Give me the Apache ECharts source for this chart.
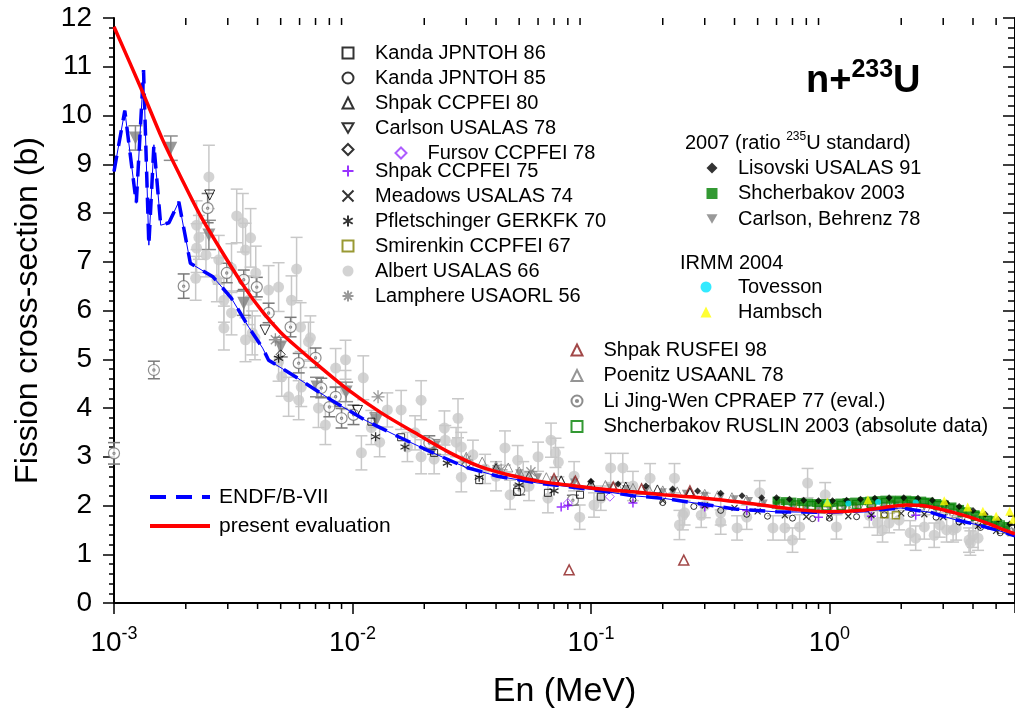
<!DOCTYPE html>
<html>
<head>
<meta charset="utf-8">
<script src="https://cdn.jsdelivr.net/npm/echarts@6/dist/echarts.min.js"></script>
<style>
html, body { margin: 0; padding: 0; background: #fff; }
#main { width: 1015px; height: 715px; }
</style>
</head>
<body>
<div id="main"></div>
<script>
// ---- evaluated curves (E in MeV, sigma in b) ----
const evalE = [0.001, 0.0013, 0.0016, 0.0019, 0.0023, 0.0028, 0.0035, 0.0042, 0.005, 0.006, 0.007, 0.0096, 0.0132, 0.0183, 0.0252, 0.0345, 0.045, 0.06, 0.08, 0.1, 0.15, 0.2, 0.3, 0.42, 0.6, 0.8, 1.0, 1.3, 1.7, 2.1, 2.6, 3.3, 4.0, 4.8, 5.4, 6.0];
const evalS = [11.82, 10.55, 9.5, 8.75, 7.95, 7.25, 6.5, 5.97, 5.55, 5.2, 4.92, 4.37, 3.9, 3.49, 3.1, 2.79, 2.63, 2.5, 2.42, 2.36, 2.28, 2.22, 2.15, 2.07, 1.97, 1.9, 1.87, 1.89, 1.96, 2.01, 1.98, 1.86, 1.74, 1.6, 1.5, 1.42];
const endfE = [0.001, 0.00111, 0.00124, 0.00133, 0.0014, 0.00147, 0.00157, 0.0017, 0.00187, 0.00209, 0.0026, 0.0031, 0.00367, 0.0042, 0.00445, 0.00577, 0.00817, 0.0113, 0.0156, 0.0213, 0.0296, 0.0406, 0.06, 0.1, 0.15, 0.2, 0.4, 0.6, 1.0, 1.5, 2.0, 2.7, 3.3, 4.2, 5.0, 6.0];
const endfS = [8.85, 10.1, 8.2, 10.93, 7.34, 9.4, 7.75, 7.8, 8.23, 6.97, 6.69, 6.26, 5.66, 5.23, 4.98, 4.64, 4.16, 3.75, 3.41, 3.1, 2.79, 2.6, 2.46, 2.33, 2.2, 2.15, 1.93, 1.87, 1.86, 1.9, 1.95, 1.85, 1.72, 1.6, 1.5, 1.38];

// ---- Albert USALAS 66 (E, sigma, error) ----
const albertE = [0.0025, 0.00327, 0.00347, 0.00222, 0.00227, 0.00374, 0.00222, 0.00243, 0.00275, 0.00356, 0.00583, 0.00311, 0.00393, 0.0027, 0.00445, 0.0049, 0.00289, 0.00311, 0.00367, 0.00555, 0.00289, 0.00606, 0.00666, 0.00356, 0.0049, 0.00505, 0.0054, 0.0072, 0.0038, 0.00654, 0.00935, 0.0111, 0.0085, 0.00595, 0.0077, 0.0109, 0.016, 0.0277, 0.0183, 0.0194, 0.014, 0.0245, 0.0286, 0.0194, 0.00935, 0.0286, 0.0243, 0.0272, 0.0436, 0.032, 0.068, 0.06, 0.071, 0.073, 0.121, 0.136, 0.177, 0.0458, 0.066, 0.0897, 0.103, 0.235, 0.243, 0.224, 0.0493, 0.81, 0.96, 0.41, 0.70, 0.58, 0.65, 2.3, 2.75, 3.3, 4.0, 4.2, 1.78, 1.96, 3.9, 0.247, 0.29, 0.35, 0.45, 1.07, 1.47, 2.5, 3.1, 0.51, 0.35, 0.75, 1.59, 1.67, 2.18, 2.9, 3.4, 3.85, 0.012, 0.013, 0.017, 0.022, 0.036, 0.04, 0.052, 0.085, 0.15, 0.3, 0.11, 0.055, 0.0022, 0.0039, 0.0061];
const albertS = [8.74, 7.94, 7.80, 7.75, 7.50, 7.49, 7.28, 7.14, 7.04, 7.24, 6.85, 6.87, 6.77, 6.63, 6.42, 6.48, 6.21, 5.95, 6.21, 6.21, 5.64, 5.66, 5.44, 5.40, 4.95, 4.64, 4.23, 4.0, 5.54, 5.36, 4.99, 4.62, 4.82, 4.16, 3.65, 3.08, 3.96, 3.79, 3.49, 3.0, 3.96, 3.34, 3.2, 4.16, 4.37, 2.58, 3.59, 3.3, 3.18, 3.04, 3.34, 3.0, 3.08, 2.89, 2.77, 2.77, 2.56, 2.22, 2.15, 1.76, 2.01, 1.6, 1.8, 2.56, 2.93, 2.46, 2.22, 1.54, 1.29, 1.54, 1.54, 1.33, 1.39, 1.5, 1.39, 1.33, 1.64, 1.7, 1.23, 1.85, 1.8, 1.85, 1.76, 1.56, 1.8, 1.56, 1.5, 2.26, 1.66, 1.56, 1.64, 1.5, 1.44, 1.6, 1.54, 1.29, 3.6, 3.3, 3.2, 2.95, 2.75, 2.6, 2.6, 2.6, 2.4, 2.0, 2.15, 2.4, 6.66, 5.44, 4.43];
const albertErr = [0.65, 0.55, 0.6, 0.5, 0.45, 0.6, 0.5, 0.45, 0.5, 0.55, 0.65, 0.5, 0.55, 0.45, 0.5, 0.5, 0.45, 0.45, 0.5, 0.5, 0.45, 0.5, 0.45, 0.45, 0.4, 0.4, 0.4, 0.4, 0.45, 0.4, 0.4, 0.45, 0.4, 0.4, 0.4, 0.35, 0.4, 0.4, 0.35, 0.35, 0.35, 0.3, 0.3, 0.4, 0.4, 0.3, 0.35, 0.3, 0.35, 0.3, 0.35, 0.3, 0.3, 0.3, 0.3, 0.3, 0.3, 0.3, 0.3, 0.25, 0.25, 0.3, 0.3, 0.3, 0.3, 0.3, 0.25, 0.25, 0.25, 0.25, 0.25, 0.25, 0.25, 0.25, 0.25, 0.25, 0.2, 0.2, 0.25, 0.25, 0.25, 0.25, 0.25, 0.25, 0.25, 0.25, 0.25, 0.25, 0.25, 0.25, 0.25, 0.25, 0.25, 0.25, 0.25, 0.25, 0.35, 0.3, 0.3, 0.3, 0.3, 0.3, 0.3, 0.3, 0.3, 0.25, 0.25, 0.3, 0.45, 0.45, 0.4];

// ---- Li Jing-Wen CPRAEP 77 (eval.) ----
const liE = [0.001, 0.00147, 0.00196, 0.00247, 0.00297, 0.0035, 0.00397, 0.00445, 0.0055, 0.007, 0.00595, 0.0074, 0.0085, 0.008, 0.009, 0.0101, 0.021, 0.05, 0.084];
const liS = [3.07, 4.78, 6.5, 8.1, 6.77, 6.63, 6.48, 5.95, 5.66, 5.03, 4.92, 4.41, 4.23, 4.02, 3.79, 3.86, 3.28, 2.32, 2.11];
const liErr = [0.22, 0.18, 0.25, 0.3, 0.2, 0.2, 0.2, 0.2, 0.2, 0.2, 0.2, 0.2, 0.2, 0.2, 0.2, 0.2, 0.15, 0.1, 0.1];

// ---- Carlson, Behrenz 78 (ratio to 235U) ----
const cbLowE = [0.00123, 0.00173, 0.0025, 0.0035, 0.005, 0.0071, 0.0094, 0.0126, 0.022];
const cbLowS = [9.54, 9.33, 7.55, 6.15, 5.25, 4.43, 4.33, 3.75, 3.2];
const cbLowErr = [0.25, 0.25, 0.3, 0.25, 0.2, 0.2, 0.2, 0.15, 0.15];
const cbE = [0.04, 0.05, 0.06, 0.07, 0.085, 0.1, 0.12, 0.14, 0.17, 0.2, 0.22, 0.25, 0.3, 0.35, 0.4, 0.46, 0.53, 0.6, 0.7, 0.8, 0.9, 1.0, 1.15, 1.3, 1.5, 1.7, 1.9, 2.2, 2.5, 2.8, 3.2, 3.6, 4.0, 4.5, 5.0, 5.5, 6.0];
const cbS = [2.75, 2.66, 2.58, 2.52, 2.47, 2.42, 2.37, 2.34, 2.3, 2.27, 2.26, 2.24, 2.2, 2.17, 2.13, 2.09, 2.04, 2.0, 1.95, 1.93, 1.92, 1.92, 1.93, 1.95, 1.97, 1.99, 2.0, 2.0, 1.97, 1.93, 1.86, 1.79, 1.72, 1.64, 1.57, 1.5, 1.45];

// ---- Poenitz USAANL 78 ----
const poenE = [0.03, 0.035, 0.04, 0.045, 0.05, 0.057, 0.065, 0.075, 0.085, 0.1, 0.115, 0.13, 0.15, 0.175, 0.2, 0.23, 0.26, 0.3, 0.34, 0.39, 0.45, 0.52, 0.6, 0.7, 0.8, 0.92, 1.05, 1.2, 1.4, 1.6, 1.85, 2.1, 2.4, 2.7, 3.0, 3.4, 3.8, 4.3, 4.8, 5.3, 5.8];
const poenS = [3.0, 2.9, 2.82, 2.78, 2.7, 2.64, 2.58, 2.52, 2.5, 2.45, 2.42, 2.38, 2.36, 2.33, 2.31, 2.29, 2.27, 2.24, 2.21, 2.17, 2.12, 2.07, 2.03, 1.98, 1.95, 1.93, 1.94, 1.96, 1.98, 2.0, 2.02, 2.03, 2.0, 1.96, 1.9, 1.84, 1.76, 1.68, 1.6, 1.52, 1.47];

// ---- Shcherbakov 2003 (ratio) and RUSLIN 2003 (absolute) ----
const shch03E = [0.6, 0.65, 0.7, 0.76, 0.82, 0.88, 0.95, 1.02, 1.1, 1.18, 1.27, 1.37, 1.47, 1.58, 1.7, 1.83, 1.97, 2.12, 2.28, 2.45, 2.63, 2.83, 3.05, 3.28, 3.53, 3.8, 4.1, 4.4, 4.75, 5.1, 5.5];
const shch03S = [2.1, 2.09, 2.08, 2.07, 2.06, 2.05, 2.05, 2.05, 2.06, 2.07, 2.08, 2.09, 2.1, 2.11, 2.12, 2.12, 2.12, 2.12, 2.11, 2.1, 2.08, 2.05, 2.02, 1.98, 1.93, 1.88, 1.82, 1.76, 1.7, 1.64, 1.58];
const ruslinE = [0.62, 0.72, 0.84, 0.97, 1.12, 1.3, 1.5, 1.72, 1.95, 2.2, 2.5, 2.85, 3.2, 3.6, 4.1, 4.6, 5.2];
const ruslinS = [2.03, 2.01, 2.0, 1.99, 2.0, 2.02, 2.04, 2.06, 2.07, 2.07, 2.05, 2.0, 1.94, 1.86, 1.78, 1.7, 1.6];

// ---- Lisovski USALAS 91 ----
const lisE = [0.1, 0.13, 0.17, 0.22, 0.28, 0.35, 0.43, 0.52, 0.6, 0.68, 0.78, 0.9, 1.03, 1.18, 1.35, 1.55, 1.78, 2.05, 2.35, 2.7, 3.1, 3.5, 4.0, 4.5, 5.1, 5.7];
const lisS = [2.5, 2.44, 2.4, 2.34, 2.3, 2.25, 2.2, 2.16, 2.16, 2.13, 2.11, 2.1, 2.1, 2.11, 2.13, 2.15, 2.16, 2.16, 2.15, 2.11, 2.05, 1.98, 1.9, 1.82, 1.72, 1.62];

// ---- IRMM 2004 ----
const hambE = [0.98, 1.45, 3.03, 3.8, 4.4, 5.0, 5.7, 5.9];
const hambS = [2.07, 2.12, 2.1, 1.97, 1.88, 1.78, 1.88, 1.72];
const tovE = [0.98, 1.2, 1.6, 2.3];
const tovS = [2.06, 2.04, 2.07, 2.06];

// ---- older measurements ----
const kanda86E = [0.012, 0.016, 0.022, 0.034, 0.049, 0.066, 0.09, 0.11];
const kanda86S = [3.72, 3.4, 3.08, 2.52, 2.28, 2.26, 2.22, 2.18];
const kanda85E = [0.15, 0.2, 0.27, 0.35, 0.45, 0.55, 0.7, 0.85, 1.0, 1.3, 1.7, 2.2, 2.8, 3.5, 4.3, 5.2];
const kanda85S = [2.12, 2.06, 1.98, 1.9, 1.82, 1.78, 1.74, 1.73, 1.74, 1.77, 1.81, 1.82, 1.76, 1.66, 1.55, 1.44];
const shpak80E = [0.04, 0.055, 0.075, 0.1, 0.14, 0.19, 0.26];
const shpak80S = [2.78, 2.62, 2.52, 2.46, 2.4, 2.34, 2.28];
const carlsonE = [0.00252, 0.0043, 0.0105];
const carlsonS = [8.37, 5.6, 3.95];
const fursovE = [0.08, 0.12];
const fursovS = [2.05, 2.18];
const fursovBlkE = [0.005, 0.03];
const fursovBlkS = [5.1, 2.85];
const shpak75E = [0.075, 0.08, 0.15, 0.3, 0.45, 0.9, 1.5, 2.3];
const shpak75S = [1.97, 2.0, 2.05, 1.97, 1.9, 1.76, 1.78, 1.8];
const meadowsE = [0.2, 0.3, 0.4, 0.5, 0.65, 0.8, 1.0, 1.2, 1.5, 2.0, 2.5, 3.0, 3.6, 4.2, 5.0];
const meadowsS = [2.1, 2.0, 1.95, 1.88, 1.8, 1.77, 1.76, 1.78, 1.8, 1.84, 1.82, 1.76, 1.66, 1.58, 1.48];
const pfletE = [0.0049, 0.0125, 0.0166, 0.025, 0.034, 0.05, 0.07];
const pfletS = [5.02, 3.41, 3.2, 2.87, 2.58, 2.42, 2.3];
const smirE = [0.62, 0.75, 0.9, 1.05, 1.25, 1.5, 1.8, 2.1, 1.7, 1.9];
const smirS = [2.0, 1.98, 1.97, 1.97, 1.98, 2.0, 2.02, 2.03, 1.82, 1.8];
const lampE = [0.00475, 0.0128, 0.03, 0.042, 0.056];
const lampS = [5.4, 4.23, 2.93, 2.73, 2.69];
const shpak98E = [0.081, 0.245, 0.07, 0.086, 0.124, 0.163, 0.26];
const shpak98S = [0.68, 0.88, 2.55, 2.5, 2.38, 2.34, 2.3];

// minor tick positions of the log axis
const xMinorTicks = [0.002, 0.003, 0.004, 0.005, 0.006, 0.007, 0.008, 0.009, 0.02, 0.03, 0.04, 0.05, 0.06, 0.07, 0.08, 0.09, 0.2, 0.3, 0.4, 0.5, 0.6, 0.7, 0.8, 0.9, 2, 3, 4, 5];

const FONT = '"Liberation Sans", Arial, Helvetica, sans-serif';
const FURSOV_BLK = 'Fursov CCPFEI 78 (black)';

const SYM = {
  downTri: 'path://M0,0L10,0L5,8.66Z',
  plus: 'path://M5,0L5,10M0,5L10,5',
  cross: 'path://M0,0L10,10M10,0L0,10',
  star6: 'path://M5,0L5,10M0.7,2.5L9.3,7.5M9.3,2.5L0.7,7.5',
  star8: 'path://M5,0L5,10M0,5L10,5M1.5,1.5L8.5,8.5M8.5,1.5L1.5,8.5',
  ringDot: 'path://M10,5A5,5,0,1,1,0,5A5,5,0,1,1,10,5ZM6,5A1,1,0,1,1,4,5A1,1,0,1,1,6,5Z'
};

const pairs = (xs, ys) => xs.map((x, i) => [x, ys[i]]);
const triples = (xs, ys, es) => xs.map((x, i) => [x, ys[i], es[i]]);

function hollow(color, w) {
  return { color: 'rgba(255,255,255,0)', borderColor: color, borderWidth: w || 1 };
}

function markers(name, xs, ys, symbol, size, style, z) {
  return {
    name: name, type: 'scatter', data: pairs(xs, ys),
    symbol: symbol, symbolSize: size, itemStyle: style,
    z: z || 3, silent: true
  };
}

function errorBars(xs, ys, es, color, cap, z) {
  return {
    type: 'custom', data: triples(xs, ys, es), z: z || 1, silent: true,
    encode: { x: 0, y: 1 },
    renderItem: function (params, api) {
      const x = api.value(0), y = api.value(1), e = api.value(2);
      const hi = api.coord([x, y + e]);
      const lo = api.coord([x, y - e]);
      const st = { stroke: color, lineWidth: 1.5 };
      return {
        type: 'group', children: [
          { type: 'line', shape: { x1: hi[0], y1: hi[1], x2: lo[0], y2: lo[1] }, style: st },
          { type: 'line', shape: { x1: hi[0] - cap, y1: hi[1], x2: hi[0] + cap, y2: hi[1] }, style: st },
          { type: 'line', shape: { x1: lo[0] - cap, y1: lo[1], x2: lo[0] + cap, y2: lo[1] }, style: st }
        ]
      };
    }
  };
}

function minorTicks(yVal, len, xIdx) {
  return {
    type: 'custom', data: xMinorTicks.map(v => [v, yVal]), xAxisIndex: xIdx,
    clip: false, silent: true, z: 10, encode: { x: 0, y: 1 },
    renderItem: function (params, api) {
      const p = api.coord([api.value(0), api.value(1)]);
      return { type: 'line', shape: { x1: p[0], y1: p[1], x2: p[0], y2: p[1] + len }, style: { stroke: '#000', lineWidth: 1.5 } };
    }
  };
}

const legendText = (size, lh, padLeft) => ({ fontSize: size, lineHeight: lh, fontFamily: FONT, color: '#000', padding: [0, 0, 0, padLeft] });
const symLegend = (names, left, top, gap, padLeft) => ({
  data: names, orient: 'vertical', left: left, top: top, padding: 0,
  itemWidth: 11, itemHeight: 11, itemGap: gap, selectedMode: false,
  textStyle: legendText(20, 20, padLeft)
});

const chart = echarts.init(document.getElementById('main'));

const legends = [
  symLegend(['Kanda JPNTOH 86', 'Kanda JPNTOH 85', 'Shpak CCPFEI 80', 'Carlson USALAS 78', FURSOV_BLK, 'Shpak CCPFEI 75',
    'Meadows USALAS 74', 'Pfletschinger GERKFK 70', 'Smirenkin CCPFEI 67', 'Albert USALAS 66', 'Lamphere USAORL 56'], 341.5, 43, 5, 16.5),
  symLegend(['Fursov CCPFEI 78'], 394.5, 143, 5, 16),
  symLegend(['Lisovski USALAS 91', 'Shcherbakov 2003', 'Carlson, Behrenz 78'], 706.5, 158, 5.5, 15.5),
  symLegend(['Tovesson', 'Hambsch'], 700.5, 277, 5, 21.5),
  symLegend(['Shpak RUSFEI 98', 'Poenitz USAANL 78', 'Li Jing-Wen CPRAEP 77 (eval.)', 'Shcherbakov RUSLIN 2003 (absolute data)'], 570.5, 340, 5.5, 16),
  {
    data: ['ENDF/B-VII', 'present evaluation'],
    orient: 'vertical', left: 148, top: 485, padding: 0,
    itemWidth: 60, itemHeight: 12, itemGap: 5, selectedMode: false,
    itemStyle: { opacity: 0 },
    lineStyle: { width: 4 },
    textStyle: legendText(21, 24, 4)
  }
];
legends[0].formatter = n => (n === FURSOV_BLK ? '' : n);

chart.setOption({
  animation: false,
  backgroundColor: '#fff',
  title: {
    text: '{a|n+}{s|233}{a|U}',
    left: 806, top: 58, padding: 0,
    textStyle: {
      rich: {
        a: { fontSize: 38, fontWeight: 'bold', fontFamily: FONT, color: '#000' },
        s: { fontSize: 25, fontWeight: 'bold', fontFamily: FONT, color: '#000', padding: [0, 0, 22, 0] }
      }
    }
  },
  graphic: [
    {
      type: 'text', left: 685, top: 131,
      style: {
        text: '{a|2007 (ratio }{s|235}{a|U standard)}',
        rich: {
          a: { fontSize: 20, fontFamily: FONT, fill: '#000' },
          s: { fontSize: 12, fontFamily: FONT, fill: '#000', padding: [0, 0, 12, 0] }
        }
      }
    },
    { type: 'text', left: 680, top: 253, style: { text: 'IRMM 2004', fontSize: 20, fontFamily: FONT, fill: '#000' } }
  ],
  legend: legends,
  grid: { left: 114, top: 18, width: 905, height: 585, containLabel: false },
  xAxis: [
    {
      type: 'log', min: 0.001, max: 6, logBase: 10, position: 'bottom',
      name: 'En (MeV)', nameLocation: 'middle', nameGap: 72,
      nameTextStyle: { fontSize: 34, fontFamily: FONT, color: '#000' },
      axisLine: { lineStyle: { color: '#4a0c0c', width: 2 } },
      axisTick: { inside: false, length: 11, lineStyle: { color: '#000', width: 1.5 } },
      splitLine: { show: false },
      axisLabel: {
        margin: 22, showMaxLabel: false,
        formatter: function (v) {
          const n = Math.round(Math.log10(v));
          if (Math.abs(v / Math.pow(10, n) - 1) > 1e-6) return '';
          return '{b|10}{s|' + n + '}';
        },
        rich: {
          b: { fontSize: 28, fontFamily: FONT, color: '#000' },
          s: { fontSize: 18, fontFamily: FONT, color: '#000', padding: [0, 0, 18, 0] }
        }
      }
    },
    {
      type: 'log', min: 0.001, max: 6, logBase: 10, position: 'top',
      axisLine: { lineStyle: { color: '#000', width: 2 } },
      axisTick: { inside: true, length: 10, lineStyle: { color: '#000', width: 1.5 } },
      axisLabel: { show: false }, splitLine: { show: false }
    }
  ],
  yAxis: [
    {
      type: 'value', min: 0, max: 12, interval: 1, position: 'left',
      name: 'Fission cross-section (b)', nameLocation: 'middle', nameGap: 70, nameRotate: 90,
      nameTextStyle: { fontSize: 32, fontFamily: FONT, color: '#000' },
      axisLine: { show: true, lineStyle: { color: '#000', width: 2 } },
      axisTick: { inside: false, length: 11, lineStyle: { color: '#000', width: 1.5 } },
      minorTick: { show: true, splitNumber: 5, length: 5, lineStyle: { color: '#000', width: 1.5 } },
      axisLabel: { fontSize: 28, fontFamily: FONT, color: '#000', margin: 22 },
      splitLine: { show: false }
    },
    {
      type: 'value', min: 0, max: 12, interval: 1, position: 'right',
      axisLine: { show: true, lineStyle: { color: '#000', width: 2 } },
      axisTick: { inside: true, length: 12, lineStyle: { color: '#000', width: 1.5 } },
      minorTick: { show: true, splitNumber: 5, length: 7, lineStyle: { color: '#000', width: 1.5 } },
      axisLabel: { show: false }, splitLine: { show: false }
    }
  ],
  series: [
    // error bars
    errorBars(albertE, albertS, albertErr, '#c8c8c8', 6, 1),
    errorBars(cbLowE, cbLowS, cbLowErr, '#8c8c8c', 7, 2),
    errorBars(liE, liS, liErr, '#7a7a7a', 6, 2),
    // measurements
    markers('Albert USALAS 66', albertE, albertS, 'circle', 11, { color: '#c8c8c8' }, 2),
    markers('Carlson, Behrenz 78', cbLowE, cbLowS, SYM.downTri, 13, { color: '#808080' }, 3),
    markers('Carlson, Behrenz 78', cbE, cbS, SYM.downTri, 8, { color: '#808080' }, 3),
    markers('Poenitz USAANL 78', poenE, poenS, 'triangle', 9, hollow('#7a7a7a'), 3),
    markers('Li Jing-Wen CPRAEP 77 (eval.)', liE, liS, SYM.ringDot, 11, { color: '#fff', borderColor: '#707070', borderWidth: 1.2 }, 4),
    markers('Kanda JPNTOH 86', kanda86E, kanda86S, 'rect', 7, hollow('#000'), 4),
    markers('Kanda JPNTOH 85', kanda85E, kanda85S, 'circle', 6, hollow('#000'), 4),
    markers('Shpak CCPFEI 80', shpak80E, shpak80S, 'triangle', 8, hollow('#000'), 4),
    markers('Carlson USALAS 78', carlsonE, carlsonS, SYM.downTri, 10, hollow('#000'), 4),
    markers(FURSOV_BLK, fursovBlkE, fursovBlkS, 'diamond', 9, hollow('#000'), 4),
    markers('Fursov CCPFEI 78', fursovE, fursovS, 'diamond', 9, hollow('#9933ff'), 4),
    markers('Shpak CCPFEI 75', shpak75E, shpak75S, SYM.plus, 9, { color: 'rgba(0,0,0,0)', borderColor: '#8000ff', borderWidth: 1.5 }, 4),
    markers('Meadows USALAS 74', meadowsE, meadowsS, SYM.cross, 6, { color: 'rgba(0,0,0,0)', borderColor: '#000', borderWidth: 1.2 }, 4),
    markers('Pfletschinger GERKFK 70', pfletE, pfletS, SYM.star6, 9, { color: 'rgba(0,0,0,0)', borderColor: '#000', borderWidth: 1.3 }, 4),
    markers('Smirenkin CCPFEI 67', smirE, smirS, 'rect', 7, hollow('#808000', 1.5), 4),
    markers('Lamphere USAORL 56', lampE, lampS, SYM.star8, 13, { color: 'rgba(0,0,0,0)', borderColor: '#808080', borderWidth: 1.3 }, 4),
    markers('Shcherbakov RUSLIN 2003 (absolute data)', ruslinE, ruslinS, 'rect', 8, hollow('#008000', 1.5), 4),
    markers('Shcherbakov 2003', shch03E, shch03S, 'rect', 8, { color: '#008000' }, 4),
    markers('Lisovski USALAS 91', lisE, lisS, 'diamond', 7, { color: '#000' }, 4),
    markers('Tovesson', tovE, tovS, 'circle', 6, { color: '#00e5ff' }, 5),
    markers('Hambsch', hambE, hambS, 'triangle', 9, { color: '#ffff00' }, 5),
    markers('Shpak RUSFEI 98', shpak98E, shpak98S, 'triangle', 10, hollow('#8b1a1a', 1.5), 5),
    // curves
    {
      name: 'ENDF/B-VII thin', type: 'line', data: pairs(endfE, endfS), symbol: 'none', silent: true,
      lineStyle: { color: '#0000ff', width: 1 }, z: 6
    },
    {
      name: 'ENDF/B-VII', type: 'line', data: pairs(endfE, endfS), symbol: 'none', silent: true,
      lineStyle: { color: '#0000ff', width: 3.5, type: [16, 10] }, itemStyle: { color: '#0000ff' }, z: 6
    },
    {
      name: 'present evaluation', type: 'line', data: pairs(evalE, evalS), symbol: 'none', smooth: 0.3, silent: true,
      lineStyle: { color: '#ff0000', width: 3.5 }, itemStyle: { color: '#ff0000' }, z: 7
    },
    // minor ticks of the log axes
    minorTicks(0, 6, 0),
    minorTicks(12, 7, 0)
  ]
});
</script>
</body>
</html>
